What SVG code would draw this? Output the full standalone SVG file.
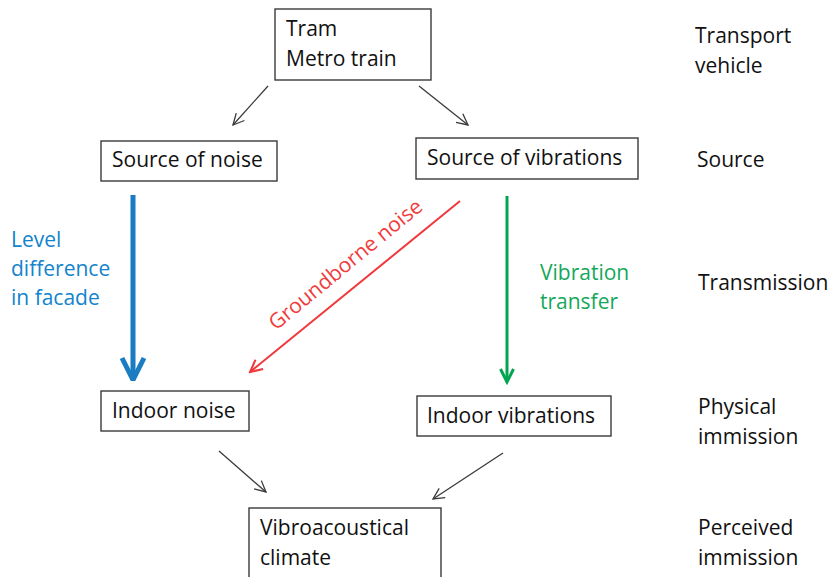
<svg xmlns="http://www.w3.org/2000/svg" width="830" height="577" viewBox="0 0 830 577">
  <style>
    .box { fill: #ffffff; stroke: #3a3a3a; stroke-width: 1.4; }
    .t { font-family: "Open Sans", "Liberation Sans", sans-serif; font-size: 21px; fill: #111111; }
    .blue { fill: #1283cc; }
    .green { fill: #14a85a; }
    .red { fill: #f03c3c; }
    .thin { stroke: #3a3a3a; stroke-width: 1.3; fill: none; }
  </style>
  <defs>
    <marker id="hBlack" viewBox="0 0 14 14" refX="12" refY="7" markerWidth="14" markerHeight="14" markerUnits="userSpaceOnUse" orient="auto">
      <path d="M1,1.5 L12,7 L1,12.5" fill="none" stroke="#3a3a3a" stroke-width="1.3"/>
    </marker>
    <marker id="hBlue" viewBox="0 0 30 30" refX="25" refY="15" markerWidth="30" markerHeight="30" markerUnits="userSpaceOnUse" orient="auto">
      <path d="M3,4 L25,15 L3,26" fill="none" stroke="#1a7dc2" stroke-width="5" stroke-linejoin="miter" stroke-miterlimit="2"/>
    </marker>
    <marker id="hGreen" viewBox="0 0 18 18" refX="15" refY="9" markerWidth="18" markerHeight="18" markerUnits="userSpaceOnUse" orient="auto">
      <path d="M2,2.5 L15,9 L2,15.5" fill="none" stroke="#00a651" stroke-width="3"/>
    </marker>
    <marker id="hRed" viewBox="0 0 16 16" refX="14" refY="8" markerWidth="16" markerHeight="16" markerUnits="userSpaceOnUse" orient="auto">
      <path d="M2,2 L14,8 L2,14" fill="none" stroke="#f0383c" stroke-width="2"/>
    </marker>
  </defs>
  <rect width="830" height="577" fill="#ffffff"/>

  <g id="connectors">
    <line class="thin" x1="268" y1="86" x2="233" y2="125" marker-end="url(#hBlack)"/>
    <line class="thin" x1="419" y1="86" x2="468" y2="125" marker-end="url(#hBlack)"/>
    <line x1="133" y1="195" x2="133" y2="380" stroke="#1a7dc2" stroke-width="5" marker-end="url(#hBlue)"/>
    <line x1="507" y1="196" x2="507" y2="382" stroke="#00a651" stroke-width="3" marker-end="url(#hGreen)"/>
    <line x1="460" y1="201" x2="250" y2="372" stroke="#f0383c" stroke-width="2" marker-end="url(#hRed)"/>
    <line class="thin" x1="219" y1="451" x2="266" y2="492" marker-end="url(#hBlack)"/>
    <line class="thin" x1="503" y1="453" x2="433" y2="499" marker-end="url(#hBlack)"/>
  </g>

  <g id="labels-transfer">
    <text class="t blue" x="11" y="247">Level</text>
    <text class="t blue" x="11" y="276">difference</text>
    <text class="t blue" x="11" y="305">in facade</text>
    <text class="t green" x="540" y="280">Vibration</text>
    <text class="t green" x="540" y="309">transfer</text>
    <text class="t red" x="350" y="270" text-anchor="middle" transform="rotate(-39.5 350 270)">Groundborne noise</text>
  </g>

  <g id="node-vehicle">
    <rect class="box" x="275" y="9" width="156" height="71"/>
    <text class="t" x="286" y="36">Tram</text>
    <text class="t" x="286" y="66">Metro train</text>
  </g>
  <g id="node-source-noise">
    <rect class="box" x="101" y="141" width="176" height="40"/>
    <text class="t" x="112" y="167">Source of noise</text>
  </g>
  <g id="node-source-vibrations">
    <rect class="box" x="416" y="138" width="222" height="41"/>
    <text class="t" x="427" y="165">Source of vibrations</text>
  </g>
  <g id="node-indoor-noise">
    <rect class="box" x="101" y="391" width="148" height="40"/>
    <text class="t" x="112" y="418">Indoor noise</text>
  </g>
  <g id="node-indoor-vibrations">
    <rect class="box" x="417" y="396" width="194" height="40"/>
    <text class="t" x="427" y="423">Indoor vibrations</text>
  </g>
  <g id="node-climate">
    <rect class="box" x="249" y="508" width="192" height="80"/>
    <text class="t" x="260" y="535">Vibroacoustical</text>
    <text class="t" x="260" y="565">climate</text>
  </g>

  <g id="stage-labels">
    <text class="t" x="695" y="43">Transport</text>
    <text class="t" x="695" y="73">vehicle</text>
    <text class="t" x="697" y="167">Source</text>
    <text class="t" x="698" y="290">Transmission</text>
    <text class="t" x="698" y="414">Physical</text>
    <text class="t" x="698" y="444">immission</text>
    <text class="t" x="698" y="535">Perceived</text>
    <text class="t" x="698" y="565">immission</text>
  </g>
</svg>
